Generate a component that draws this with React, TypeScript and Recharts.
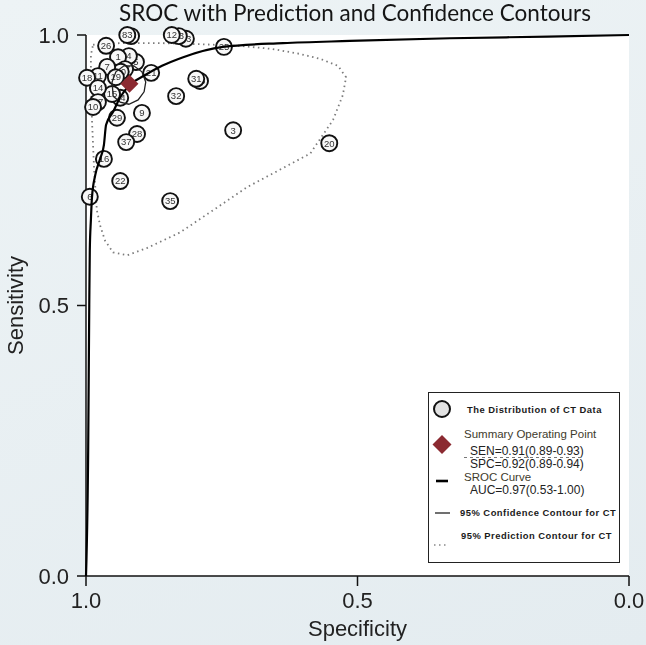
import * as React from 'react'
import {
  CartesianGrid,
  Legend,
  Scatter,
  ScatterChart,
  XAxis,
  YAxis,
} from 'recharts'

// study labels and their (specificity, sensitivity) pairs, back to front
const studyIds = [
  '33', '83', '23', '13', '12', '25', '26', '5', '4', '1', '17', '30',
  '7', '19', '11', '18', '21', '24', '15', '14', '27', '10', '29', '9',
  '32', '36', '31', '3', '20', '28', '37', '16', '22', '6', '35',
]
const studySpec = [
  0.917, 0.924, 0.816, 0.829, 0.842, 0.746, 0.963, 0.908, 0.921, 0.941,
  0.928, 0.936, 0.961, 0.945, 0.978, 0.998, 0.88, 0.937, 0.952, 0.978,
  0.978, 0.987, 0.943, 0.897, 0.834, 0.79, 0.797, 0.729, 0.552, 0.906,
  0.926, 0.967, 0.937, 0.993, 0.845,
]
const studySens = [
  0.998, 1.0, 0.993, 0.998, 1.0, 0.978, 0.98, 0.95, 0.961, 0.959, 0.937,
  0.932, 0.941, 0.922, 0.924, 0.921, 0.93, 0.884, 0.891, 0.902, 0.876,
  0.867, 0.847, 0.856, 0.887, 0.915, 0.919, 0.824, 0.8, 0.817, 0.802,
  0.771, 0.73, 0.701, 0.693,
]

// summary operating point
const summarySpec = [0.92]
const summarySens = [0.91]

// SROC curve
const srocSpec = [
  1.0, 0.996, 0.994, 0.993, 0.991, 0.989, 0.983, 0.974, 0.967, 0.963, 0.95,
  0.937, 0.919, 0.891, 0.86, 0.821, 0.748, 0.637, 0.514, 0.33, 0.15, 0.0,
]
const srocSens = [
  0.0, 0.232, 0.501, 0.603, 0.658, 0.7, 0.741, 0.771, 0.797, 0.834, 0.858,
  0.885, 0.908, 0.926, 0.943, 0.959, 0.978, 0.985, 0.989, 0.994, 0.997,
  1.0,
]

// 95% confidence contour
const confSpec = [
  0.95, 0.937, 0.921, 0.904, 0.893, 0.89, 0.897, 0.912, 0.93, 0.945, 0.952,
]
const confSens = [
  0.887, 0.876, 0.872, 0.88, 0.895, 0.913, 0.932, 0.943, 0.943, 0.932,
  0.913,
]

// 95% prediction contour
const predSpec = [
  0.987, 0.937, 0.864, 0.79, 0.716, 0.656, 0.606, 0.569, 0.536, 0.521,
  0.527, 0.545, 0.587, 0.656, 0.703, 0.766, 0.827, 0.888, 0.924, 0.95,
  0.965, 0.974, 0.98, 0.985, 0.989, 0.991, 0.991,
]
const predSens = [
  0.982, 0.985, 0.985, 0.983, 0.98, 0.974, 0.965, 0.956, 0.943, 0.922,
  0.889, 0.843, 0.781, 0.744, 0.719, 0.676, 0.635, 0.606, 0.593, 0.598,
  0.62, 0.648, 0.676, 0.75, 0.843, 0.917, 0.963,
]

const axisTicks = [0, 0.5, 1]

const zip = (spec: number[], sens: number[]) =>
  spec.map((s, i) => ({ spec: s, sens: sens[i] }))

const studyData = studyIds.map((id, i) => ({
  id,
  spec: studySpec[i],
  sens: studySens[i],
}))
const summaryData = zip(summarySpec, summarySens)
const srocData = zip(srocSpec, srocSens)
const confData = zip(confSpec, confSens)
const predData = zip(predSpec, predSens)

const SANS = '"Liberation Sans", Arial, sans-serif'
const tickStyle = { fontSize: 22, fill: '#222', fontFamily: SANS }
const axisStroke = { stroke: '#111', strokeWidth: 1.5 }

const noDot = () => <g />

const StudyDot = (props: any) => {
  const { cx, cy, payload } = props
  return (
    <g>
      <circle cx={cx} cy={cy} r={8} fill="#f8f8f8" stroke="#111" strokeWidth={1.9} />
      <text
        x={cx}
        y={cy + 3.3}
        textAnchor="middle"
        fontSize={9.5}
        fontFamily={SANS}
        fill="#333"
      >
        {payload.id}
      </text>
    </g>
  )
}

const Diamond = (props: any) => {
  const { cx, cy } = props
  const r = 9
  return (
    <polygon
      points={`${cx},${cy - r} ${cx + r},${cy} ${cx},${cy + r} ${cx - r},${cy}`}
      fill="#8b2a31"
    />
  )
}

const legendBold = {
  fontSize: 9.4,
  fontWeight: 700,
  fontFamily: SANS,
  fill: '#1a1a1a',
  letterSpacing: 0.5,
}
const legendHead = { fontSize: 11.5, fontFamily: SANS, fill: '#3e3b2c' }
const legendStat = { fontSize: 12, fontFamily: SANS, fill: '#222' }

const LegendBox = () => (
  <svg width={192} height={171}>
    <rect x={0.5} y={0.5} width={191} height={170} fill="#fff" stroke="#222" />
    <circle cx={14} cy={17} r={8} fill="#e2e2e2" stroke="#111" strokeWidth={2} />
    <text x={39} y={21} {...legendBold}>The Distribution of CT Data</text>
    <polygon points="14,43 23.5,52.5 14,62 4.5,52.5" fill="#8b2a31" />
    <text x={36} y={46} {...legendHead}>Summary Operating Point</text>
    <text x={42} y={63} {...legendStat}>SEN=0.91(0.89-0.93)</text>
    <line x1={36} y1={65.5} x2={156} y2={65.5} stroke="#777" strokeWidth={1} strokeDasharray="3 3" />
    <text x={42} y={76} {...legendStat}>SPC=0.92(0.89-0.94)</text>
    <line x1={8} y1={89} x2={20} y2={89} stroke="#000" strokeWidth={2.6} />
    <text x={36} y={89} {...legendHead}>SROC Curve</text>
    <text x={42} y={102} {...legendStat}>AUC=0.97(0.53-1.00)</text>
    <line x1={7} y1={121} x2={22} y2={121} stroke="#333" strokeWidth={1.4} />
    <text x={32} y={124} {...legendBold}>95% Confidence Contour for CT</text>
    <text x={33} y={147} {...legendBold}>95% Prediction Contour for CT</text>
    <line x1={6} y1={153} x2={19} y2={153} stroke="#888" strokeWidth={1.6} strokeDasharray="1.5 3.5" />
  </svg>
)

export default function App() {
  return (
    <div
      style={{
        position: 'fixed',
        left: 0,
        top: 0,
        width: 646,
        height: 645,
        background: 'linear-gradient(160deg, #edf3f5 0%, #e4ecf0 100%)',
      }}
    >
      <div
        style={{
          position: 'absolute',
          left: 0,
          top: 0,
          width: 710,
          textAlign: 'center',
          fontFamily: 'Lato, "Open Sans", sans-serif',
          fontSize: 22.5,
          lineHeight: '26px',
          color: '#151515',
        }}
      >
        SROC with Prediction and Confidence Contours
      </div>
      <ScatterChart
        width={646}
        height={645}
        margin={{ top: 35, right: 17, bottom: 9, left: 0 }}
      >
        <CartesianGrid fill="#fff" horizontal={false} vertical={false} />
        <XAxis
          type="number"
          dataKey="spec"
          domain={[0, 1]}
          reversed
          ticks={axisTicks}
          tickFormatter={(v: number) => v.toFixed(1)}
          tick={tickStyle}
          tickSize={10}
          tickMargin={6}
          height={60}
          axisLine={axisStroke}
          tickLine={axisStroke}
          label={{
            value: 'Specificity',
            position: 'insideBottom',
            offset: 0,
            fontSize: 22,
            fill: '#222',
            fontFamily: SANS,
          }}
        />
        <YAxis
          type="number"
          dataKey="sens"
          domain={[0, 1]}
          ticks={axisTicks}
          tickFormatter={(v: number) => v.toFixed(1)}
          tick={tickStyle}
          tickSize={9}
          tickMargin={8}
          width={86}
          axisLine={axisStroke}
          tickLine={axisStroke}
          label={{
            content: (p: any) => {
              const vb = p.viewBox
              const x = vb.x + 15
              const y = vb.y + vb.height / 2
              return (
                <text
                  x={x}
                  y={y}
                  transform={`rotate(-90 ${x} ${y})`}
                  textAnchor="middle"
                  dominantBaseline="central"
                  fontSize={22}
                  fill="#222"
                  fontFamily={SANS}
                >
                  Sensitivity
                </text>
              )
            },
          }}
        />
        <Scatter
          data={predData}
          line={{ stroke: '#7c7c7c', strokeWidth: 1.8, strokeDasharray: '1.5 3.5' }}
          lineJointType="linearClosed"
          shape={noDot}
          isAnimationActive={false}
        />
        <Scatter data={studyData} shape={StudyDot} isAnimationActive={false} />
        <Scatter
          data={confData}
          line={{ stroke: '#222', strokeWidth: 1.3 }}
          lineJointType="linearClosed"
          shape={noDot}
          isAnimationActive={false}
        />
        <Scatter
          data={srocData}
          line={{ stroke: '#000', strokeWidth: 2.2 }}
          lineJointType="monotoneX"
          shape={noDot}
          isAnimationActive={false}
        />
        <Scatter data={summaryData} shape={Diamond} isAnimationActive={false} />
        <Legend
          layout="horizontal"
          verticalAlign="middle"
          align="center"
          content={LegendBox}
          wrapperStyle={{ position: 'absolute', left: 428, top: 392, width: 192, height: 171 }}
        />
      </ScatterChart>
    </div>
  )
}
